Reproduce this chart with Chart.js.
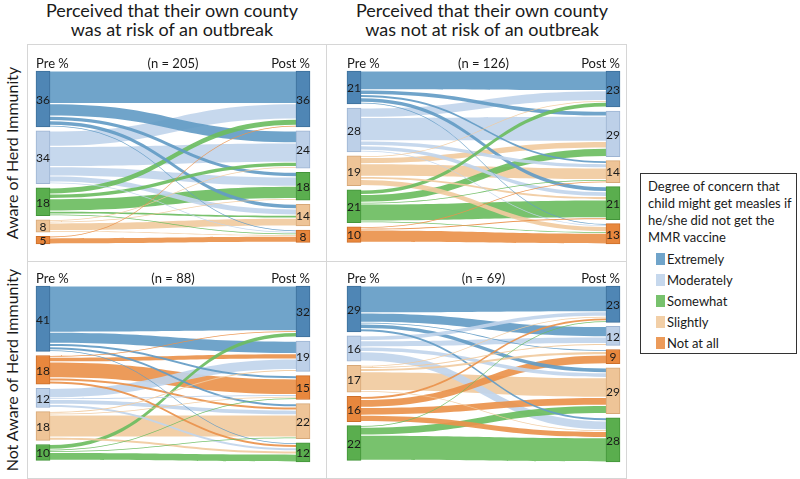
<!DOCTYPE html>
<html>
<head>
<meta charset="utf-8">
<script src="https://cdn.jsdelivr.net/npm/chart.js@4.4.1/dist/chart.umd.min.js"></script>
<style>
  body { margin: 0; width: 800px; height: 479px; background: #fff; position: relative; overflow: hidden;
         font-family: Lato, "Open Sans", sans-serif; color: #1a1a1a; }
  .title { position: absolute; top: 1px; width: 320px; text-align: center; font-size: 18px; line-height: 19px; }
  .row { position: absolute; width: 240px; text-align: center; font-size: 16px; line-height: 20px; transform: rotate(-90deg); }
  .box { position: absolute; box-sizing: border-box; border: 1px solid #d6d6d6; }
  canvas { position: absolute; }
  #legend { position: absolute; left: 640px; top: 173px; width: 157px; height: 181px; box-sizing: border-box;
            border: 1px solid #333; padding: 4px 0 0 7px; font-size: 13px; line-height: 17px; }
  #legend .item { position: relative; height: 21px; line-height: 21px; padding-left: 19px; }
  #legend .sw { position: absolute; left: 8px; top: 4px; width: 9px; height: 12px; }
</style>
</head>
<body>
<div class="title" style="left:12px">Perceived that their own county<br>was at risk of an outbreak</div>
<div class="title" style="left:322px">Perceived that their own county<br>was not at risk of an outbreak</div>
<div class="row" style="left:-108px; top:143px">Aware of Herd Immunity</div>
<div class="row" style="left:-108px; top:360px">Not Aware of Herd Immunity</div>

<div class="box" style="left:27px; top:44px; width:300px; height:218px"></div>
<div class="box" style="left:326px; top:44px; width:301px; height:218px"></div>
<div class="box" style="left:27px; top:261px; width:300px; height:218px"></div>
<div class="box" style="left:326px; top:261px; width:301px; height:218px"></div>

<canvas id="p1" width="299" height="217" style="left:27px; top:44px"></canvas>
<canvas id="p2" width="300" height="217" style="left:326px; top:44px"></canvas>
<canvas id="p3" width="299" height="217" style="left:27px; top:261px"></canvas>
<canvas id="p4" width="300" height="217" style="left:326px; top:261px"></canvas>

<div id="legend">
  <div style="margin-bottom:3px">Degree of concern that child might get measles if he/she did not get the MMR vaccine</div>
</div>

<script>
// categories: Extremely, Moderately, Somewhat, Slightly, Not at all
const categories = ["Extremely", "Moderately", "Somewhat", "Slightly", "Not at all"];
const sampleSizes = [205, 126, 88, 69];

// node values by category (percent)
const p1Pre = [36, 34, 18, 8, 5];
const p1Post = [36, 24, 18, 14, 8];
const p2Pre = [21, 28, 21, 19, 10];
const p2Post = [23, 29, 21, 14, 13];
const p3Pre = [41, 12, 10, 18, 18];
const p3Post = [32, 19, 12, 22, 15];
const p4Pre = [29, 16, 22, 17, 16];
const p4Post = [23, 12, 28, 29, 9];

// top-to-bottom node order on each side (category index)
const p1PreOrder = [0, 1, 2, 3, 4];
const p1PostOrder = [0, 1, 2, 3, 4];
const p2PreOrder = [0, 1, 3, 2, 4];
const p2PostOrder = [0, 1, 3, 2, 4];
const p3PreOrder = [0, 4, 1, 3, 2];
const p3PostOrder = [0, 1, 4, 3, 2];
const p4PreOrder = [0, 1, 3, 4, 2];
const p4PostOrder = [0, 1, 4, 3, 2];

// flows: rows = pre category, cols = post category (estimated percent)
const p1Flows = [
  [21, 8, 3, 3, 1],
  [10, 13, 6, 4, 1],
  [4, 3, 8, 2, 1],
  [0, 1, 1, 5, 1],
  [1, 0, 0, 0, 4],
];
const p2Flows = [
  [12, 3, 3, 2, 1],
  [6, 15, 3, 3, 1],
  [3, 5, 11, 1, 1],
  [1, 4, 2, 8, 4],
  [0, 0, 1, 1, 8],
];
const p3Flows = [
  [29, 7, 1, 2, 2],
  [0, 6, 2, 3, 1],
  [3, 0, 5, 1, 1],
  [0, 1, 2, 14, 1],
  [1, 3, 2, 2, 10],
];
const p4Flows = [
  [17, 6, 2, 3, 1],
  [3, 4, 6, 3, 0],
  [1, 0, 16, 5, 0],
  [1, 1, 1, 12, 2],
  [2, 0, 4, 5, 5],
];

const nodeColors = ["#4f86b5", "#bdd0e8", "#5aae4e", "#eec497", "#e8873d"];
const nodeBorders = ["#3d6f9b", "#9db4d3", "#43953a", "#d7a878", "#cd6f2a"];
const flowColors = [
  "rgba(100,156,198,0.92)",
  "rgba(193,213,236,0.92)",
  "rgba(108,189,97,0.92)",
  "rgba(241,203,160,0.92)",
  "rgba(234,146,76,0.92)",
];

const NODE_W = 14;
const GAP = 2.6;
const FONT = "Lato, 'Open Sans', sans-serif";

function sum(a) {
  return a.reduce((s, v) => s + v, 0);
}

function stackNodes(values, order) {
  const pos = [];
  let cur = 0;
  order.forEach((c) => {
    pos[c] = [cur, cur + values[c]];
    cur += values[c] + GAP;
  });
  return pos;
}

function buildBands(pre, post, preOrder, postOrder, flows, prePos, postPos) {
  const rowSum = flows.map(sum);
  const colSum = categories.map((_, j) => flows.reduce((s, r) => s + r[j], 0));
  const bands = {};
  preOrder.forEach((i) => {
    let cur = prePos[i][0];
    postOrder.forEach((j) => {
      const f = flows[i][j];
      if (!f) return;
      const h = (f / rowSum[i]) * pre[i];
      bands[i + "-" + j] = { i, j, f, s0: cur, s1: cur + h };
      cur += h;
    });
  });
  postOrder.forEach((j) => {
    let cur = postPos[j][0];
    preOrder.forEach((i) => {
      const f = flows[i][j];
      if (!f) return;
      const h = (f / colSum[j]) * post[j];
      const b = bands[i + "-" + j];
      b.t0 = cur;
      b.t1 = cur + h;
      cur += h;
    });
  });
  return Object.values(bands).sort((a, b) => b.f - a.f);
}

function renderPanel(id, n, pre, post, preOrder, postOrder, flows, pad) {
  const prePos = stackNodes(pre, preOrder);
  const postPos = stackNodes(post, postOrder);
  const total = Math.max(sum(pre), sum(post)) + GAP * 4;
  const bands = buildBands(pre, post, preOrder, postOrder, flows, prePos, postPos);

  const flowPlugin = {
    id: "flows",
    beforeDatasetsDraw(chart) {
      const { ctx } = chart;
      const xs = chart.scales.x;
      const ys = chart.scales.y;
      const x0 = xs.getPixelForValue(0) + NODE_W / 2;
      const x1 = xs.getPixelForValue(1) - NODE_W / 2;
      const xm = (x0 + x1) / 2;
      ctx.save();
      bands.forEach((b) => {
        let a0 = ys.getPixelForValue(b.s0), a1 = ys.getPixelForValue(b.s1);
        let c0 = ys.getPixelForValue(b.t0), c1 = ys.getPixelForValue(b.t1);
        const shrinkA = Math.min(0.6, (a1 - a0) * 0.25);
        const shrinkC = Math.min(0.6, (c1 - c0) * 0.25);
        a0 += shrinkA; a1 -= shrinkA; c0 += shrinkC; c1 -= shrinkC;
        ctx.beginPath();
        ctx.moveTo(x0, a0);
        ctx.bezierCurveTo(xm, a0, xm, c0, x1, c0);
        ctx.lineTo(x1, c1);
        ctx.bezierCurveTo(xm, c1, xm, a1, x0, a1);
        ctx.closePath();
        ctx.fillStyle = flowColors[b.i];
        ctx.fill();
      });
      ctx.restore();
    },
    afterDatasetsDraw(chart) {
      const { ctx } = chart;
      const xs = chart.scales.x;
      const ys = chart.scales.y;
      ctx.save();
      ctx.fillStyle = "#1a1a1a";
      ctx.font = "12px " + FONT;
      ctx.textAlign = "center";
      ctx.textBaseline = "middle";
      chart.data.datasets.forEach((ds, c) => {
        const meta = chart.getDatasetMeta(c);
        meta.data.forEach((el, k) => {
          const v = k === 0 ? pre[c] : post[c];
          ctx.fillText(String(v), el.x, (el.y + el.base) / 2 + 1);
        });
      });
      ctx.font = "13px " + FONT;
      ctx.textBaseline = "alphabetic";
      const top = ys.getPixelForValue(0) - 3;
      const left = xs.getPixelForValue(0) - NODE_W / 2;
      const right = xs.getPixelForValue(1) + NODE_W / 2;
      ctx.textAlign = "left";
      ctx.fillText("Pre %", left, top);
      ctx.textAlign = "right";
      ctx.fillText("Post %", right, top);
      ctx.textAlign = "center";
      ctx.fillText("(n = " + n + ")", (left + right) / 2, top);
      ctx.restore();
    },
  };

  new Chart(document.getElementById(id), {
    type: "bar",
    data: {
      labels: ["Pre %", "Post %"],
      datasets: categories.map((name, c) => ({
        label: name,
        data: [prePos[c], postPos[c]],
        backgroundColor: nodeColors[c],
        borderColor: nodeBorders[c],
        borderWidth: 1,
        borderSkipped: false,
        barThickness: NODE_W,
        grouped: false,
        clip: false,
      })),
    },
    options: {
      responsive: false,
      animation: false,
      events: [],
      layout: { padding: pad },
      plugins: { legend: { display: false }, tooltip: { enabled: false } },
      scales: {
        x: { type: "category", offset: false, display: false },
        y: { type: "linear", min: 0, max: total, reverse: true, display: false },
      },
    },
    plugins: [flowPlugin],
  });
}

function renderLegend() {
  const box = document.getElementById("legend");
  categories.forEach((name, c) => {
    const item = document.createElement("div");
    item.className = "item";
    const sw = document.createElement("span");
    sw.className = "sw";
    sw.style.background = flowColors[c];
    item.appendChild(sw);
    item.appendChild(document.createTextNode(name));
    box.appendChild(item);
  });
}

const padLeftCol = { left: 16, right: 23 };
const padRightCol = { left: 28, right: 13 };
const padTopRow = { top: 27, bottom: 17 };
const padBottomRow = { top: 25, bottom: 16 };

renderPanel("p1", sampleSizes[0], p1Pre, p1Post, p1PreOrder, p1PostOrder, p1Flows, { ...padLeftCol, ...padTopRow });
renderPanel("p2", sampleSizes[1], p2Pre, p2Post, p2PreOrder, p2PostOrder, p2Flows, { ...padRightCol, ...padTopRow });
renderPanel("p3", sampleSizes[2], p3Pre, p3Post, p3PreOrder, p3PostOrder, p3Flows, { ...padLeftCol, ...padBottomRow });
renderPanel("p4", sampleSizes[3], p4Pre, p4Post, p4PreOrder, p4PostOrder, p4Flows, { ...padRightCol, ...padBottomRow });
renderLegend();
</script>
</body>
</html>
